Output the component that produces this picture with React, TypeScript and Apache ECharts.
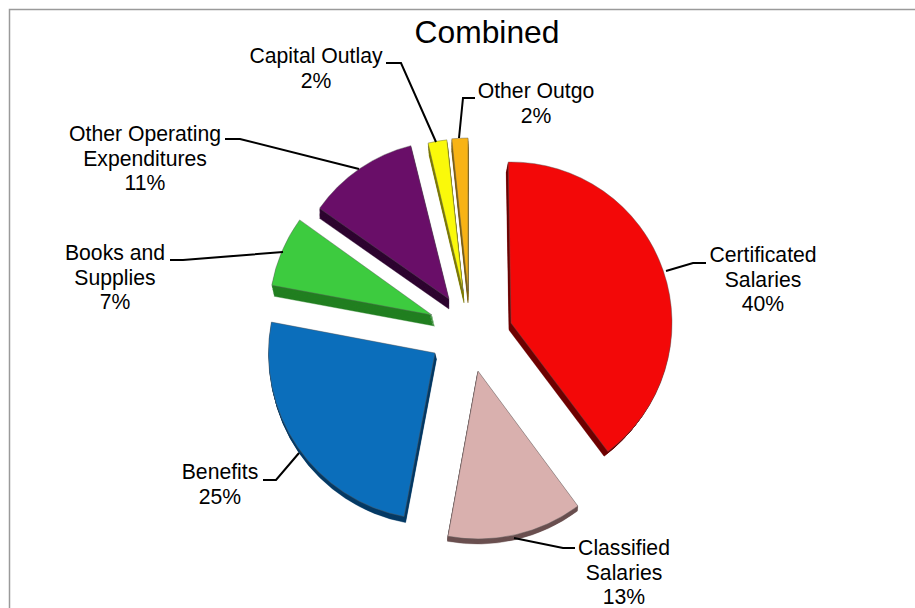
import React, { useEffect, useRef } from "react";
import * as echarts from "echarts";

const categories = ["Certificated Salaries", "Classified Salaries", "Benefits", "Books and Supplies", "Other Operating Expenditures", "Capital Outlay", "Other Outgo"];
const values = [40, 13, 25, 7, 11.4, 2, 1.7];
const faceColors = ["#F30808", "#D9B0AE", "#0B6EBB", "#3DCB3F", "#690E68", "#FAF90A", "#F8B315"];
const sideColors = ["#6E0000", "#6B5050", "#063B66", "#217F20", "#2E0530", "#7F7C05", "#7F6010"];
// layout of each exploded wedge: centre x, centre y, radius, clockwise angle of its first edge from 12 o'clock
const centersX = [511, 478, 435, 432, 449, 463, 468];
const centersY = [323, 371, 353, 315, 299, 291, 291];
const radii = [161, 168, 166.5, 163, 158, 152, 153];
const startClock = [-1, 143.5, 190.7, 280.5, 305, 346.7, 353.9];
const depthX = [-2, -0.5, 1.5, 2.5, 0, 1, 0];
const depthY = [7, 5, 6, 11, 10, 12, 12];
const sideInset = [3, 0, 0, 0, 0, 0, 0];

const labelLines = [
  { text: "Certificated\nSalaries\n40%", x: 763, y: 242.5 },
  { text: "Classified\nSalaries\n13%", x: 624, y: 535.5 },
  { text: "Benefits\n25%", x: 220, y: 459.5 },
  { text: "Books and\nSupplies\n7%", x: 115, y: 240.5 },
  { text: "Other Operating\nExpenditures\n11%", x: 145, y: 121.5 },
  { text: "Capital Outlay\n2%", x: 316, y: 43.5 },
  { text: "Other Outgo\n2%", x: 536, y: 78.5 },
];
const leaders = [
  [[706, 263], [693, 263], [666, 271]],
  [[575, 548], [563, 548], [514, 538]],
  [[263, 480], [276, 480], [299, 453]],
  [[170, 260], [183, 260], [283, 252]],
  [[225, 139], [240, 139], [359, 169]],
  [[386, 63], [401, 63], [436, 142]],
  [[475, 98], [463, 98], [459, 138]],
];

const FONT = '"Liberation Sans", Arial, sans-serif';
const SIDE_STEPS = 8;

function wedge(i: number, step: number) {
  const side = step > 0;
  const f = step / SIDE_STEPS;
  return {
    type: "pie",
    name: categories[i] + (side ? " side " + step : ""),
    silent: true,
    animation: false,
    clockwise: true,
    startAngle: 90 - startClock[i],
    minAngle: 0,
    avoidLabelOverlap: false,
    radius: [0, radii[i] - (side ? sideInset[i] * f : 0)],
    center: [centersX[i] + depthX[i] * f, centersY[i] + depthY[i] * f],
    label: { show: false },
    labelLine: { show: false },
    z: side ? 1 : 2,
    data: [
      {
        name: categories[i],
        value: values[i],
        itemStyle: {
          color: side ? sideColors[i] : faceColors[i],
          borderColor: side ? sideColors[i] : "rgba(90,90,90,0.55)",
          borderWidth: side ? 0.4 : 0.8,
        },
      },
      { name: "", value: 100 - values[i], itemStyle: { color: "transparent", borderWidth: 0 } },
    ],
  };
}

export default function App() {
  const ref = useRef<HTMLDivElement>(null);
  useEffect(() => {
    document.body.style.margin = "0";
    const chart = echarts.init(ref.current!, undefined, { renderer: "svg" });
    const series: any[] = [];
    categories.forEach((_, i) => {
      for (let s = SIDE_STEPS; s >= 1; s--) series.push(wedge(i, s));
    });
    categories.forEach((_, i) => series.push(wedge(i, 0)));
    chart.setOption({
      animation: false,
      backgroundColor: "#fff",
      title: {
        text: "Combined",
        left: 482,
        top: 11,
        textAlign: "center",
        textStyle: { fontFamily: FONT, fontSize: 31.8, fontWeight: "normal", color: "#000" },
      },
      series,
      graphic: [
        { type: "polyline", shape: { points: [[9.5, 608], [9.5, 9.5], [915, 9.5]] }, style: { stroke: "#9a9a9a", lineWidth: 1.5, fill: "none" }, silent: true },
        ...leaders.map((points) => ({
          type: "polyline",
          z: 5,
          shape: { points },
          style: { stroke: "#000", lineWidth: 2, fill: "none" },
          silent: true,
        })),
        ...labelLines.map((l) => ({
          type: "text",
          z: 6,
          x: l.x,
          y: l.y,
          style: { text: l.text, font: `21.2px ${FONT}`, fill: "#000", align: "center", verticalAlign: "top", lineHeight: 24.5 },
        })),
      ],
    });
    return () => chart.dispose();
  }, []);
  return <div ref={ref} style={{ width: 915, height: 608 }} />;
}
